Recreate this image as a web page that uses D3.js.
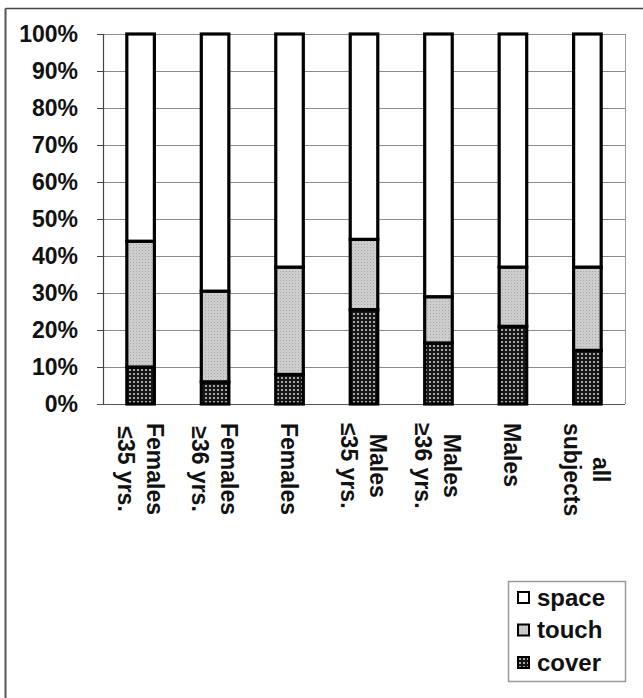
<!doctype html>
<html>
<head>
<meta charset="utf-8">
<script src="https://d3js.org/d3.v7.min.js"></script>
<style>
  body { margin: 0; background: #fff; }
  text { font-family: "Liberation Sans", Arial, sans-serif; font-weight: bold; fill: #111; }
</style>
</head>
<body>
<script>
// data (percent of subjects)
var categories = [["Females", "≤35 yrs."], ["Females", "≥36 yrs."], ["Females"],
                  ["Males", "≤35 yrs."], ["Males", "≥36 yrs."], ["Males"], ["all", "subjects"]];
var cover = [10, 6, 8, 25.5, 16.5, 21, 14.5];
var touch = [34, 24.5, 29, 19, 12.5, 16, 22.5];
var space = [56, 69.5, 63, 55.5, 71, 63, 63];
var seriesNames = ["cover", "touch", "space"];
var yTicks = [0, 10, 20, 30, 40, 50, 60, 70, 80, 90, 100];

var width = 643, height = 698;
var plotLeft = 103, plotRight = 625, plotTop = 34, plotBottom = 404;

var svg = d3.select("body").append("svg")
    .attr("width", width)
    .attr("height", height);

// fill patterns
var defs = svg.append("defs");
var pc = defs.append("pattern").attr("id", "pat-cover")
    .attr("width", 4).attr("height", 4).attr("patternUnits", "userSpaceOnUse");
pc.append("rect").attr("width", 4).attr("height", 4).attr("fill", "#151515");
pc.append("circle").attr("cx", 2).attr("cy", 2).attr("r", 1.1).attr("fill", "#c8c8c8");
var pt = defs.append("pattern").attr("id", "pat-touch")
    .attr("width", 3).attr("height", 3).attr("patternUnits", "userSpaceOnUse");
pt.append("rect").attr("width", 3).attr("height", 3).attr("fill", "#cdcdcd");
pt.append("rect").attr("x", 1).attr("y", 1).attr("width", 1).attr("height", 1).attr("fill", "#a8a8a8");

var fills = { cover: "url(#pat-cover)", touch: "url(#pat-touch)", space: "#fff" };

// outer frame (top and left edges visible)
svg.append("line").attr("x1", 5.5).attr("x2", width).attr("y1", 8.5).attr("y2", 8.5)
    .attr("stroke", "#444").attr("stroke-width", 1.5);
svg.append("line").attr("x1", 5.5).attr("x2", 5.5).attr("y1", 8.5).attr("y2", height)
    .attr("stroke", "#555").attr("stroke-width", 2);

var x = d3.scaleBand()
    .domain(d3.range(categories.length))
    .range([plotLeft, plotRight])
    .paddingInner(0.63)
    .paddingOuter(0.32);

var y = d3.scaleLinear()
    .domain([0, 100])
    .range([plotBottom, plotTop]);

// gridlines
svg.append("g").selectAll("line")
    .data(yTicks.slice(1))
    .enter().append("line")
    .attr("x1", plotLeft).attr("x2", plotRight)
    .attr("y1", function(d) { return y(d) + 0.5; })
    .attr("y2", function(d) { return y(d) + 0.5; })
    .attr("stroke", "#8a8a8a").attr("stroke-width", 1);
svg.append("line").attr("x1", plotRight + 0.5).attr("x2", plotRight + 0.5)
    .attr("y1", plotTop).attr("y2", plotBottom).attr("stroke", "#999");

// y axis
var yAxis = d3.axisLeft(y)
    .tickValues(yTicks)
    .tickSize(6)
    .tickPadding(19)
    .tickFormat(function(d) { return d + "%"; });
var ya = svg.append("g").attr("transform", "translate(" + plotLeft + ",0)").call(yAxis);
ya.select(".domain").attr("stroke", "#444").attr("stroke-width", 1.2);
ya.selectAll(".tick line").attr("stroke", "#444");
ya.selectAll(".tick text").style("font-size", "23px").attr("fill", "#111");

// x baseline
svg.append("line").attr("x1", plotLeft - 6).attr("x2", plotRight)
    .attr("y1", plotBottom + 0.5).attr("y2", plotBottom + 0.5)
    .attr("stroke", "#555").attr("stroke-width", 1.2);

// stacked bars
var rows = categories.map(function(c, i) {
    return { i: i, cover: cover[i], touch: touch[i], space: space[i] };
});
var stack = d3.stack().keys(seriesNames)(rows);

svg.append("g").selectAll("g")
    .data(stack)
    .enter().append("g")
    .attr("fill", function(d) { return fills[d.key]; })
    .selectAll("rect")
    .data(function(d) { return d; })
    .enter().append("rect")
    .attr("x", function(d) { return x(d.data.i); })
    .attr("width", x.bandwidth())
    .attr("y", function(d) { return y(d[1]); })
    .attr("height", function(d) { return y(d[0]) - y(d[1]); })
    .attr("stroke", "#000")
    .attr("stroke-width", 3.2);

// category labels, rotated, reading top to bottom
var lineGap = 29;
var labels = svg.append("g").selectAll("g")
    .data(categories)
    .enter().append("g")
    .attr("transform", function(d, i) {
        return "translate(" + (x(i) + x.bandwidth() / 2) + ",423) rotate(90)";
    });
labels.each(function(lines) {
    var g = d3.select(this);
    var texts = g.selectAll("text").data(lines).enter().append("text")
        .style("font-size", "23px")
        .attr("y", function(d, j) { return 8.5 + (j - (lines.length - 1) / 2) * lineGap; })
        .text(function(d) { return d; });
    var w = d3.max(texts.nodes(), function(n) { return n.getComputedTextLength(); });
    texts.attr("text-anchor", "middle").attr("x", w / 2);
});

// legend
var legend = svg.append("g");
legend.append("rect").attr("x", 508.5).attr("y", 581.5).attr("width", 117).attr("height", 100)
    .attr("fill", "#fff").attr("stroke", "#999").attr("stroke-width", 1.5);
var legendKeys = ["space", "touch", "cover"];
var li = legend.selectAll("g.item").data(legendKeys).enter().append("g")
    .attr("transform", function(d, i) { return "translate(518," + (592 + i * 32.5) + ")"; });
li.append("rect").attr("width", 11).attr("height", 11)
    .attr("fill", function(d) { return fills[d]; })
    .attr("stroke", "#000").attr("stroke-width", 2);
li.append("text").attr("x", 19).attr("y", 13.5)
    .style("font-size", "24px")
    .text(function(d) { return d; });
</script>
</body>
</html>
